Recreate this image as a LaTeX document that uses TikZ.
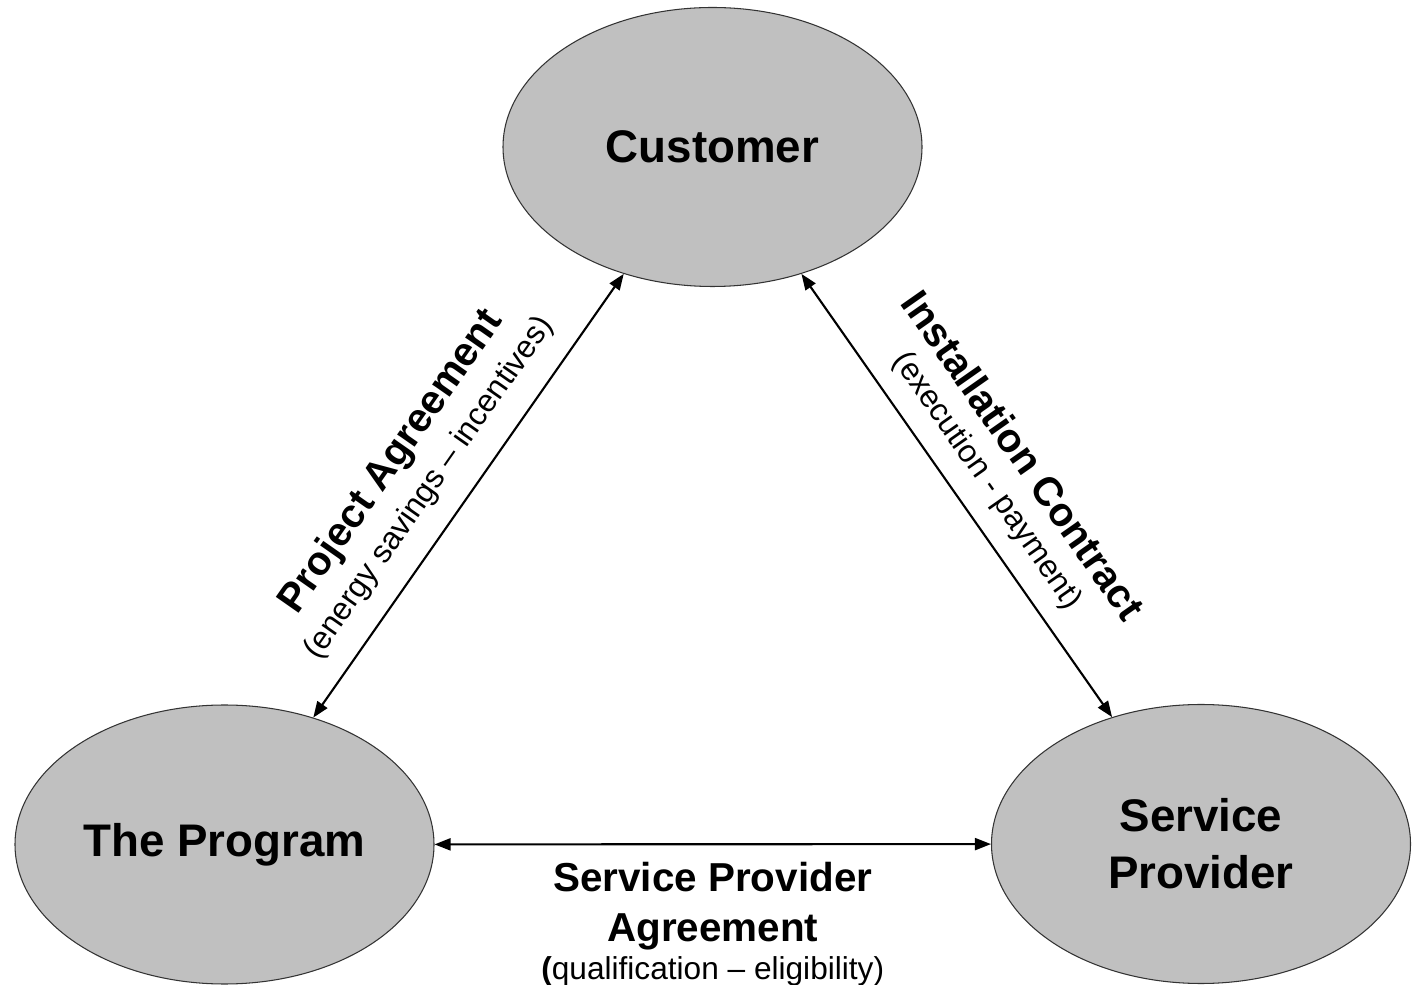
\documentclass[tikz,border=0pt]{standalone}
\usepackage{fontspec}
\setmainfont{Liberation Sans}
\usetikzlibrary{shapes.geometric, arrows.meta, positioning}
\definecolor{partygray}{RGB}{192,192,192}
\newcommand{\nodefont}{\fontsize{26}{32.4}\selectfont\bfseries}
\newcommand{\edgefont}{\fontsize{23}{28.5}\selectfont\bfseries}
\newcommand{\subfont}{\fontsize{18}{21}\selectfont}

\begin{document}
\begin{tikzpicture}
\useasboundingbox (0,0) rectangle (28.28,19.68);
\tikzstyle{party}=[draw=black!80,
                   ellipse,
                   fill=partygray,
                   line width=0.6pt,
                   minimum width=8.38cm,
                   minimum height=5.58cm,
                   inner sep=0pt,
                   align=center,
                   font=\nodefont
                   ]
\tikzstyle{link}=[line width=1.2pt, {Triangle[length=0.32cm,width=0.24cm]}-{Triangle[length=0.32cm,width=0.24cm]}]
\tikzstyle{title}=[inner sep=0pt, font=\edgefont, align=center]
\tikzstyle{terms}=[inner sep=0pt, font=\subfont, align=center]
\node[party] (customer) at (14.25,16.74) {Customer};
\node[party] (program) at (4.49,2.79) {The Program};
\node[party] (provider) at (24.02,2.80) {Service\\Provider};
\draw[link] (program) -- (customer)
  node[pos=0.47, sloped, anchor=center, yshift=1.64cm, title] {Project Agreement}
  node[pos=0.47, sloped, anchor=center, yshift=0.73cm, terms] {(energy savings -- incentives)};
\draw[link] (customer) -- (provider)
  node[pos=0.51, sloped, anchor=center, yshift=1.56cm, title] {Installation Contract}
  node[pos=0.51, sloped, anchor=center, yshift=0.66cm, terms] {(execution - payment)};
\draw[link] (program) -- (provider)
  node[midway, below=0.34cm, title] (spagree) {Service Provider\\Agreement};
\node[terms, below=0.1cm of spagree] (spterms) {\textbf{(}qualification -- eligibility)};
\end{tikzpicture}
\end{document}
